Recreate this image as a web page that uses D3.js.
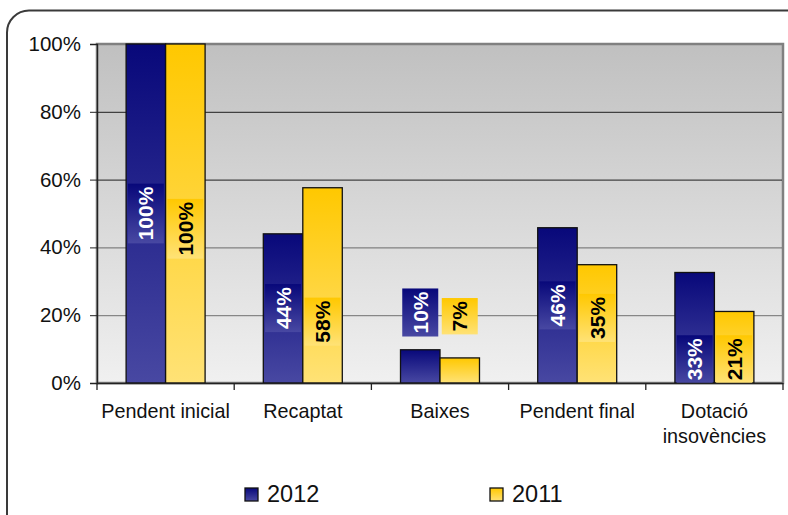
<!DOCTYPE html>
<html><head><meta charset="utf-8">
<script src="https://cdn.jsdelivr.net/npm/d3@7"></script>
<style>body{margin:0;background:#fff;}svg{display:block;font-family:"Liberation Sans",Arial,sans-serif;}</style>
</head><body>
<svg id="c" width="788" height="515"></svg>
<script>
const categories = [["Pendent inicial"], ["Recaptat"], ["Baixes"], ["Pendent final"], ["Dotació", "insovències"]];
const seriesNames = ["2012", "2011"];
const values2012 = [100, 44, 9.8, 45.8, 32.6];
const values2011 = [100, 57.6, 7.4, 34.9, 21.1];
const labels2012 = ["100%", "44%", "10%", "46%", "33%"];
const labels2011 = ["100%", "58%", "7%", "35%", "21%"];
// value at which each data label is centred
const labelAt2012 = [50, 22.1, 20.8, 22.9, 7];
const labelAt2011 = [45.5, 18.1, 19.7, 19.2, 7];
const yTicks = [0, 20, 40, 60, 80, 100];

(function () {
const svg = d3.select("#c");
const defs = svg.append("defs");
function grad(id, c0, c1) {
  const g = defs.append("linearGradient").attr("id", id).attr("x1", 0).attr("y1", 0).attr("x2", 0).attr("y2", 1);
  g.append("stop").attr("offset", "0%").attr("stop-color", c0);
  g.append("stop").attr("offset", "100%").attr("stop-color", c1);
}
grad("bg", "#c0c0c0", "#f0f0f0");
grad("g2012", "#08087a", "#4848a2");
grad("g2011", "#ffc800", "#ffe276");

// outer rounded border
svg.append("rect").attr("x", 7).attr("y", 10.5).attr("width", 810).attr("height", 530)
  .attr("rx", 22).attr("fill", "none").attr("stroke", "#3a3a3a").attr("stroke-width", 2);

const pL = 97, pR = 783, pT = 44, pB = 383;
const catIdx = categories.map((d, i) => i);
const x = d3.scaleBand().domain(catIdx).range([pL, pR]).padding(0);
const xs = d3.scaleBand().domain(seriesNames).range([0, x.bandwidth()]).paddingInner(0).paddingOuter(0.737);
const y = d3.scaleLinear().domain([0, 100]).range([pB, pT]);

svg.append("rect").attr("x", pL).attr("y", pT).attr("width", pR - pL).attr("height", pB - pT)
  .attr("fill", "url(#bg)").attr("stroke", "#808080").attr("stroke-width", 2.5);

const gridColors = {20: "#707070", 40: "#6a6a6a", 60: "#1e1e1e", 80: "#1e1e1e"};
svg.append("g").selectAll("line").data(yTicks.filter(t => t > 0 && t < 100)).join("line")
  .attr("x1", pL).attr("x2", pR - 1).attr("y1", d => y(d) + 0.5).attr("y2", d => y(d) + 0.5)
  .attr("stroke", d => gridColors[d]).attr("stroke-width", 1);

const seriesData = [
  {name: "2012", vals: values2012, labels: labels2012, at: labelAt2012, fill: "url(#g2012)", text: "#fff"},
  {name: "2011", vals: values2011, labels: labels2011, at: labelAt2011, fill: "url(#g2011)", text: "#000"}
];

seriesData.forEach(s => {
  const g = svg.append("g");
  g.selectAll("rect").data(s.vals).join("rect")
    .attr("x", (d, i) => x(i) + xs(s.name))
    .attr("y", d => y(d))
    .attr("width", xs.bandwidth())
    .attr("height", d => y(0) - y(d))
    .attr("fill", s.fill).attr("stroke", "#111").attr("stroke-width", 1.3);
});

// data labels
seriesData.forEach(s => {
  s.vals.forEach((v, i) => {
    const cx = x(i) + xs(s.name) + xs.bandwidth() / 2;
    const cy = y(s.at[i]);
    const g = svg.append("g").attr("transform", `translate(${cx},${cy})`);
    const t = g.append("text").attr("transform", "rotate(-90)")
      .attr("text-anchor", "middle").attr("dy", "0.36em")
      .attr("font-size", 21).attr("font-weight", "bold").attr("fill", s.text)
      .text(s.labels[i]);
    const w = t.node().getComputedTextLength();
    g.insert("rect", "text").attr("x", -18).attr("y", -(w / 2 + 3))
      .attr("width", 36).attr("height", w + 6).attr("fill", s.fill);
  });
});

// y axis
const yAxis = svg.append("g").attr("transform", `translate(${pL},0)`)
  .call(d3.axisLeft(y).tickValues(yTicks).tickFormat(d => d + "%").tickSize(7).tickPadding(9));
yAxis.select(".domain").attr("stroke", "#222").attr("stroke-width", 1.3);
yAxis.selectAll(".tick line").attr("stroke", "#222");
yAxis.selectAll("text").attr("font-size", 20.5).attr("fill", "#111").attr("font-family", "Liberation Sans, Arial, sans-serif");

// x axis
svg.append("line").attr("x1", pL).attr("x2", pR).attr("y1", pB + 0.5).attr("y2", pB + 0.5)
  .attr("stroke", "#222").attr("stroke-width", 1.3);
const bounds = catIdx.map(i => x(i)).concat([pR]);
svg.append("g").selectAll("line").data(bounds).join("line")
  .attr("x1", d => d).attr("x2", d => d).attr("y1", pB).attr("y2", pB + 7)
  .attr("stroke", "#222").attr("stroke-width", 1.3);
const xl = svg.append("g").selectAll("text").data(categories).join("text")
  .attr("x", (d, i) => x(i) + x.bandwidth() / 2).attr("y", 418)
  .attr("text-anchor", "middle").attr("font-size", 19.8).attr("fill", "#111");
xl.selectAll("tspan").data(d => d).join("tspan")
  .attr("x", function () { return this.parentNode.getAttribute("x"); })
  .attr("dy", (d, j) => j === 0 ? 0 : 25).text(d => d);

// legend
const legX = [245, 490];
seriesData.forEach((s, k) => {
  svg.append("rect").attr("x", legX[k]).attr("y", 488).attr("width", 13).attr("height", 13)
    .attr("fill", s.fill).attr("stroke", "#111").attr("stroke-width", 1.3);
  svg.append("text").attr("x", legX[k] + 22).attr("y", 502).attr("font-size", 23.5).attr("fill", "#111").text(s.name);
});
})();
</script>
</body></html>
